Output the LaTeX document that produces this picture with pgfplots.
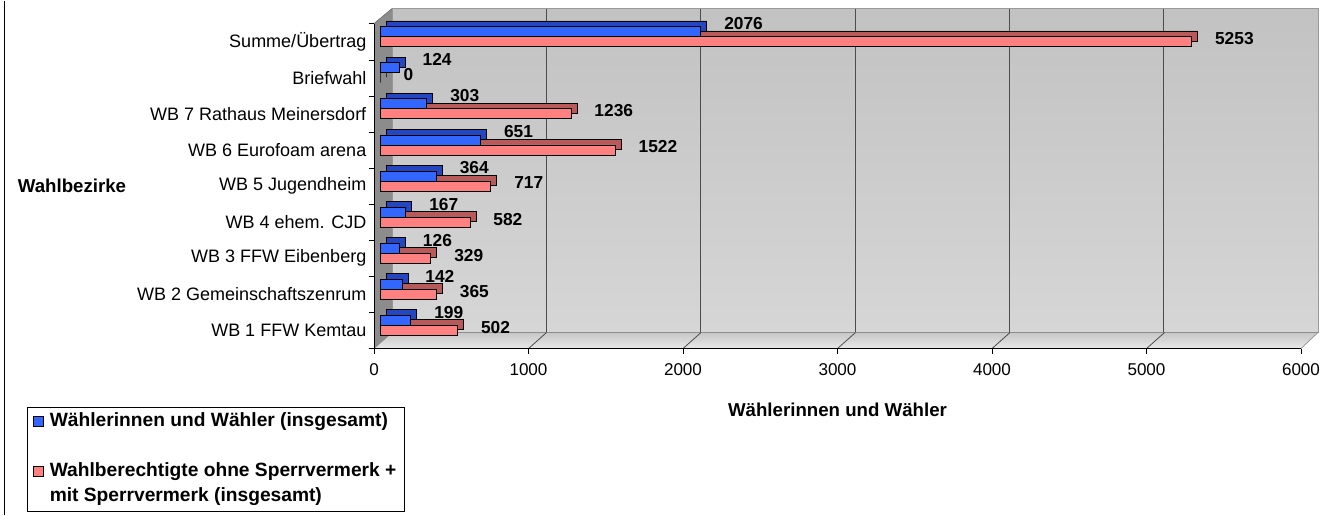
\documentclass[border=0pt]{standalone}
\usepackage{pgfplots}
\pgfplotsset{compat=1.18}
\usepackage{fontspec}
\setmainfont{Liberation Sans}
\definecolor{bfront}{HTML}{3366FF}
\definecolor{bdepth}{HTML}{2446C0}
\definecolor{rfront}{HTML}{FF8080}
\definecolor{rdepth}{HTML}{B85A5A}
\definecolor{wallTop}{HTML}{C2C2C2}
\definecolor{wallBot}{HTML}{D6D6D6}
\pgfplotstableread{
y v
0 199
1 142
2 126
3 167
4 364
5 651
6 303
7 124
8 2076
}\blue
\pgfplotstableread{
y v
0 502
1 365
2 329
3 582
4 717
5 1522
6 1236
7 0
8 5253
}\red
\begin{document}
\begin{tikzpicture}
\path (0,0) rectangle (995.25pt,385.5pt);
\draw[line width=0.8pt] (3.4pt,0) -- (3.4pt,385.5pt);
% back wall
\begin{axis}[at={(294pt,136.5pt)},anchor=south west,scale only axis,
  width=694.5pt,height=243pt,xmin=0,xmax=6000,ymin=0,ymax=1,
  xtick={1000,2000,...,5000},xticklabels={},ytick=\empty,
  major tick length=0pt,xmajorgrids,grid style={black!70,line width=0.6pt},
  axis line style={black!40},
  axis background/.style={top color=wallTop,bottom color=wallBot}]
\end{axis}
% left wall and floor
\fill[black!45] (280.5pt,368.25pt) -- (294pt,379.5pt) -- (294pt,136.5pt) -- (280.5pt,124.5pt) -- cycle;
\draw[black!60] (280.5pt,368.25pt) -- (294pt,379.5pt);
\shade[top color=black!22,bottom color=black!9,draw=black!50] (280.5pt,124.5pt) -- (975.75pt,124.5pt) -- (988.5pt,136.5pt) -- (294pt,136.5pt) -- cycle;
\foreach \xx in {396.4,512.25,628.1,744,859.9}{
  \draw[black!70,line width=0.6pt] (\xx pt,124.5pt) -- (\xx pt+13.5pt,136.5pt);}
% front frame
\begin{axis}[at={(280.5pt,124.5pt)},anchor=south west,scale only axis,
  width=695.25pt,height=243.75pt,xmin=0,xmax=6000,ymin=-0.5,ymax=8.5,
  axis x line*=bottom,axis y line*=left,axis line style={-,black},
  /pgf/number format/1000 sep={},/pgf/number format/assume math mode=true,
  xtick={0,1000,...,6000},
  ytick={0,...,8},
  yticklabels={WB 1 FFW Kemtau,WB 2 Gemeinschaftszenrum,WB 3 FFW Eibenberg,WB 4 ehem. CJD,WB 5 Jugendheim,WB 6 Eurofoam arena,WB 7 Rathaus Meinersdorf,Briefwahl,Summe/Übertrag},
  minor ytick={-0.5,0.5,...,8.5},
  major y tick style={draw=none},
  minor tick length=4pt,major tick length=4pt,
  tick align=outside,tick style={black},
  xticklabel style={font=\fontsize{12.8}{15}\selectfont,yshift=-4pt},
  yticklabel style={font=\fontsize{13.5}{16}\selectfont,xshift=1.75pt},
  xlabel={Wählerinnen und Wähler},
  ylabel={Wahlbezirke},
  x label style={at={(axis description cs:0.5,-0.1877)},anchor=center,font=\bfseries\fontsize{14}{16}\selectfont},
  every axis y label/.style={at={(axis description cs:-0.3258,0.5)},anchor=center,font=\bfseries\fontsize{14}{16}\selectfont},
  legend style={at={(axis description cs:-0.3743,-0.1785)},anchor=north west,
    draw=black,fill=white,font=\bfseries\fontsize{14.4}{17}\selectfont,
    cells={anchor=west},row sep=0pt,column sep=3pt,inner xsep=4pt,inner ysep=1.5pt,
    nodes={minimum height=18.75pt,text height=10.5pt,text depth=3pt,inner ysep=0pt}},
  legend image code/.code={\draw[#1] (0pt,-3.75pt) rectangle (7.5pt,3.75pt);}]
\addlegendimage{fill=bfront,draw=black}
\addlegendentry{Wählerinnen und Wähler (insgesamt)}
\addlegendimage{empty legend}
\addlegendentry{}
\addlegendimage{fill=rfront,draw=black}
\addlegendentry{Wahlberechtigte ohne Sperrvermerk +}
\addlegendimage{empty legend}
\addlegendentry{mit Sperrvermerk (insgesamt)}
\end{axis}
% bars
\begin{axis}[at={(285pt,128.25pt)},anchor=south west,scale only axis,
  width=695.25pt,height=243.75pt,xmin=0,xmax=6000,ymin=-0.5,ymax=8.5,
  hide axis,clip=false,
  /pgf/number format/1000 sep={},/pgf/number format/assume math mode=true,
  nodes near coords style={font=\bfseries\fontsize{13}{15}\selectfont,anchor=west}]
\addplot[xbar,bar width=7.5pt,bar shift=-3.75pt,fill=rdepth,draw=black,line width=0.6pt,xshift=4.5pt,yshift=4.2pt] table[x=v,y=y]{\red};
\addplot[xbar,bar width=7.5pt,bar shift=-3.75pt,fill=rfront,draw=black,line width=0.6pt,
  nodes near coords,every node near coord/.append style={anchor=west,xshift=14pt,yshift=-1.5pt,black}] table[x=v,y=y]{\red};
\addplot[xbar,bar width=7.5pt,bar shift=3.75pt,fill=bdepth,draw=black,line width=0.6pt,xshift=4.5pt,yshift=4.2pt] table[x=v,y=y]{\blue};
\addplot[xbar,bar width=7.5pt,bar shift=3.75pt,fill=bfront,draw=black,line width=0.6pt,
  nodes near coords,every node near coord/.append style={anchor=west,xshift=14pt,yshift=9.75pt,black}] table[x=v,y=y]{\blue};
\end{axis}
\end{tikzpicture}
\end{document}
